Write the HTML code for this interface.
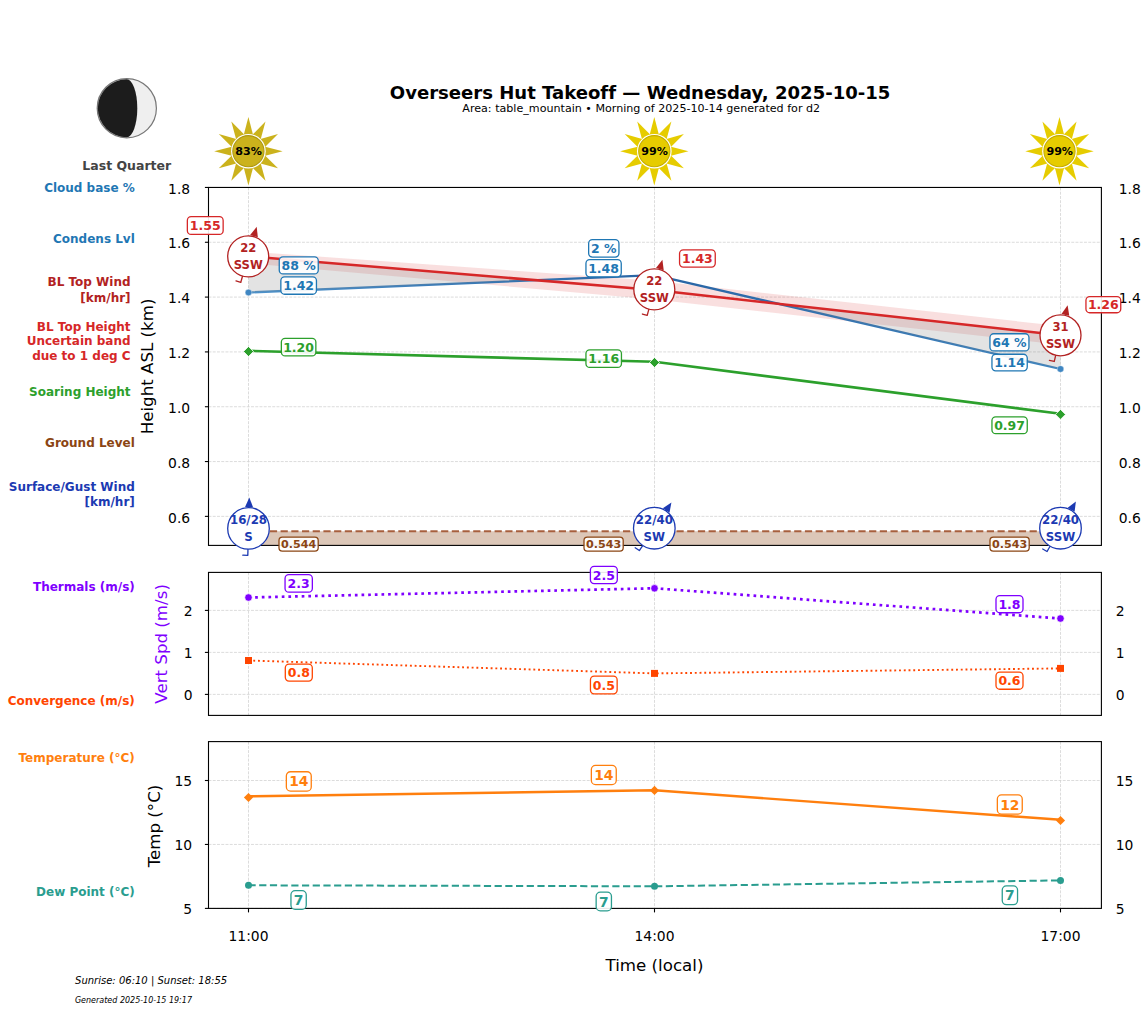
<!DOCTYPE html><html><head><meta charset="utf-8"><style>html,body{margin:0;padding:0;background:#fff;}svg{display:block;} text{font-variant-ligatures:none;}</style></head><body>
<svg width="1147" height="1011" viewBox="0 0 1147 1011" font-family="'DejaVu Sans', 'Liberation Sans', sans-serif">
<rect width="1147" height="1011" fill="#fff"/>
<defs><linearGradient id="bl" gradientUnits="userSpaceOnUse" x1="248.5" y1="0" x2="1060.5" y2="0"><stop offset="0" stop-color="#4d93cc"/><stop offset="0.5" stop-color="#2864a4"/><stop offset="1" stop-color="#3f86c2"/></linearGradient></defs>
<circle cx="126.8" cy="108.2" r="29.6" fill="#efefef" stroke="#777" stroke-width="1.2"/>
<path d="M 126.8 79.2 A 29 29 0 0 0 126.8 137.2 A 10.5 29 0 0 0 126.8 79.2 Z" fill="#1c1c1c"/>
<text x="126.8" y="170" font-size="12.5" fill="#444" font-weight="bold" text-anchor="middle">Last Quarter</text>
<text x="389.8" y="99" font-size="18.06" fill="#000" font-weight="bold">Overseers Hut Takeoff — Wednesday, 2025-10-15</text>
<text x="462.3" y="111.6" font-size="11.11" fill="#000">Area: table_mountain • Morning of 2025-10-14 generated for d2</text>
<polygon points="248.4,117 243.58,135.42 253.22,135.42" fill="#cbb21c"/>
<polygon points="265.5,121.58 252.11,135.12 260.47,139.95" fill="#cbb21c"/>
<polygon points="278.02,134.1 259.65,139.13 264.48,147.49" fill="#cbb21c"/>
<polygon points="282.6,151.2 264.18,146.38 264.18,156.02" fill="#cbb21c"/>
<polygon points="278.02,168.3 264.48,154.91 259.65,163.27" fill="#cbb21c"/>
<polygon points="265.5,180.82 260.47,162.45 252.11,167.28" fill="#cbb21c"/>
<polygon points="248.4,185.4 253.22,166.98 243.58,166.98" fill="#cbb21c"/>
<polygon points="231.3,180.82 244.69,167.28 236.33,162.45" fill="#cbb21c"/>
<polygon points="218.78,168.3 237.15,163.27 232.32,154.91" fill="#cbb21c"/>
<polygon points="214.2,151.2 232.62,156.02 232.62,146.38" fill="#cbb21c"/>
<polygon points="218.78,134.1 232.32,147.49 237.15,139.13" fill="#cbb21c"/>
<polygon points="231.3,121.58 236.33,139.95 244.69,135.12" fill="#cbb21c"/>
<circle cx="248.4" cy="151.2" r="17.3" fill="#fff"/>
<circle cx="248.4" cy="151.2" r="15.6" fill="#cbb21c" stroke="#ad9812" stroke-width="1.1"/>
<text x="248.6" y="155.2" font-size="11.1" fill="#000" font-weight="bold" text-anchor="middle">83%</text>
<polygon points="654.3,117 649.48,135.42 659.12,135.42" fill="#e6cc00"/>
<polygon points="671.4,121.58 658.01,135.12 666.37,139.95" fill="#e6cc00"/>
<polygon points="683.92,134.1 665.55,139.13 670.38,147.49" fill="#e6cc00"/>
<polygon points="688.5,151.2 670.08,146.38 670.08,156.02" fill="#e6cc00"/>
<polygon points="683.92,168.3 670.38,154.91 665.55,163.27" fill="#e6cc00"/>
<polygon points="671.4,180.82 666.37,162.45 658.01,167.28" fill="#e6cc00"/>
<polygon points="654.3,185.4 659.12,166.98 649.48,166.98" fill="#e6cc00"/>
<polygon points="637.2,180.82 650.59,167.28 642.23,162.45" fill="#e6cc00"/>
<polygon points="624.68,168.3 643.05,163.27 638.22,154.91" fill="#e6cc00"/>
<polygon points="620.1,151.2 638.52,156.02 638.52,146.38" fill="#e6cc00"/>
<polygon points="624.68,134.1 638.22,147.49 643.05,139.13" fill="#e6cc00"/>
<polygon points="637.2,121.58 642.23,139.95 650.59,135.12" fill="#e6cc00"/>
<circle cx="654.3" cy="151.2" r="17.3" fill="#fff"/>
<circle cx="654.3" cy="151.2" r="15.6" fill="#e6cc00" stroke="#c4ac00" stroke-width="1.1"/>
<text x="654.5" y="155.2" font-size="11.1" fill="#000" font-weight="bold" text-anchor="middle">99%</text>
<polygon points="1059.5,117 1054.68,135.42 1064.32,135.42" fill="#e6cc00"/>
<polygon points="1076.6,121.58 1063.21,135.12 1071.57,139.95" fill="#e6cc00"/>
<polygon points="1089.12,134.1 1070.75,139.13 1075.58,147.49" fill="#e6cc00"/>
<polygon points="1093.7,151.2 1075.28,146.38 1075.28,156.02" fill="#e6cc00"/>
<polygon points="1089.12,168.3 1075.58,154.91 1070.75,163.27" fill="#e6cc00"/>
<polygon points="1076.6,180.82 1071.57,162.45 1063.21,167.28" fill="#e6cc00"/>
<polygon points="1059.5,185.4 1064.32,166.98 1054.68,166.98" fill="#e6cc00"/>
<polygon points="1042.4,180.82 1055.79,167.28 1047.43,162.45" fill="#e6cc00"/>
<polygon points="1029.88,168.3 1048.25,163.27 1043.42,154.91" fill="#e6cc00"/>
<polygon points="1025.3,151.2 1043.72,156.02 1043.72,146.38" fill="#e6cc00"/>
<polygon points="1029.88,134.1 1043.42,147.49 1048.25,139.13" fill="#e6cc00"/>
<polygon points="1042.4,121.58 1047.43,139.95 1055.79,135.12" fill="#e6cc00"/>
<circle cx="1059.5" cy="151.2" r="17.3" fill="#fff"/>
<circle cx="1059.5" cy="151.2" r="15.6" fill="#e6cc00" stroke="#c4ac00" stroke-width="1.1"/>
<text x="1059.7" y="155.2" font-size="11.1" fill="#000" font-weight="bold" text-anchor="middle">99%</text>
<text x="134.8" y="191.7" font-size="12" fill="#1f77b4" font-weight="bold" text-anchor="end">Cloud base %</text>
<text x="134.8" y="242.5" font-size="12" fill="#1f77b4" font-weight="bold" text-anchor="end">Condens Lvl</text>
<text x="130.6" y="285.8" font-size="12" fill="#b22222" font-weight="bold" text-anchor="end">BL Top Wind</text>
<text x="130.6" y="301.6" font-size="12" fill="#b22222" font-weight="bold" text-anchor="end">[km/hr]</text>
<text x="130.6" y="330.5" font-size="12" fill="#d62728" font-weight="bold" text-anchor="end">BL Top Height</text>
<text x="130.6" y="344.7" font-size="12" fill="#d62728" font-weight="bold" text-anchor="end">Uncertain band</text>
<text x="130.6" y="360" font-size="12" fill="#d62728" font-weight="bold" text-anchor="end">due to 1 deg C</text>
<text x="130.6" y="395.7" font-size="12" fill="#2ca02c" font-weight="bold" text-anchor="end">Soaring Height</text>
<text x="134.8" y="446.6" font-size="12" fill="#8b4513" font-weight="bold" text-anchor="end">Ground Level</text>
<text x="134.8" y="490.7" font-size="12" fill="#1c3ab2" font-weight="bold" text-anchor="end">Surface/Gust Wind</text>
<text x="134.8" y="506.1" font-size="12" fill="#1c3ab2" font-weight="bold" text-anchor="end">[km/hr]</text>
<text x="134.8" y="590.5" font-size="12" fill="#7f00ff" font-weight="bold" text-anchor="end">Thermals (m/s)</text>
<text x="134.8" y="704.8" font-size="12" fill="#ff4500" font-weight="bold" text-anchor="end">Convergence (m/s)</text>
<text x="134.8" y="761.7" font-size="12" fill="#ff7f0e" font-weight="bold" text-anchor="end">Temperature (°C)</text>
<text x="134.8" y="895.8" font-size="12" fill="#2a9d8f" font-weight="bold" text-anchor="end">Dew Point (°C)</text>
<text transform="translate(152.6 366.4) rotate(-90)" text-anchor="middle" font-size="16.67" fill="#000">Height ASL (km)</text>
<text transform="translate(166.6 643.9) rotate(-90)" text-anchor="middle" font-size="16.67" fill="#7f00ff">Vert Spd (m/s)</text>
<text transform="translate(160.3 826) rotate(-90)" text-anchor="middle" font-size="16.67" fill="#000">Temp (°C)</text>
<line x1="208.5" y1="242.27" x2="1101.4" y2="242.27" stroke="#d3d3d3" stroke-width="0.8" stroke-dasharray="2.95 1.3"/>
<line x1="208.5" y1="297.09" x2="1101.4" y2="297.09" stroke="#d3d3d3" stroke-width="0.8" stroke-dasharray="2.95 1.3"/>
<line x1="208.5" y1="351.91" x2="1101.4" y2="351.91" stroke="#d3d3d3" stroke-width="0.8" stroke-dasharray="2.95 1.3"/>
<line x1="208.5" y1="406.73" x2="1101.4" y2="406.73" stroke="#d3d3d3" stroke-width="0.8" stroke-dasharray="2.95 1.3"/>
<line x1="208.5" y1="461.55" x2="1101.4" y2="461.55" stroke="#d3d3d3" stroke-width="0.8" stroke-dasharray="2.95 1.3"/>
<line x1="208.5" y1="516.37" x2="1101.4" y2="516.37" stroke="#d3d3d3" stroke-width="0.8" stroke-dasharray="2.95 1.3"/>
<line x1="248.5" y1="187.45" x2="248.5" y2="545.4" stroke="#d3d3d3" stroke-width="0.8" stroke-dasharray="2.95 1.3"/>
<line x1="654.5" y1="187.45" x2="654.5" y2="545.4" stroke="#d3d3d3" stroke-width="0.8" stroke-dasharray="2.95 1.3"/>
<line x1="1060.5" y1="187.45" x2="1060.5" y2="545.4" stroke="#d3d3d3" stroke-width="0.8" stroke-dasharray="2.95 1.3"/>
<polygon points="248.5,251.5 654.5,280.8 1060.5,326.1 1060.5,344.8 654.5,299.5 248.5,263.3" fill="#d62728" fill-opacity="0.15"/>
<polygon points="248.5,531.3 1060.5,531.3 1060.5,545.4 248.5,545.4" fill="#8b4513" fill-opacity="0.3"/>
<line x1="248.5" y1="531.3" x2="1060.5" y2="531.3" stroke="#a0522d" stroke-width="2" stroke-dasharray="7.2 3.5" stroke-opacity="0.9"/>
<polyline points="248.5,350.8 654.5,361.8 1060.5,413.8" fill="none" stroke="#2ca02c" stroke-width="2.6" stroke-linejoin="round"/>
<polyline points="248.5,292.5 654.5,275.2 1060.5,369" fill="none" stroke="url(#bl)" stroke-width="2.3" stroke-linejoin="round"/>
<polygon points="248.5,256.4 536.45,280.23 248.5,292.5" fill="#808080" fill-opacity="0.22"/>
<polygon points="778.39,303.82 1060.5,335.3 1060.5,369" fill="#808080" fill-opacity="0.22"/>
<polyline points="248.5,256.4 654.5,290 1060.5,335.3" fill="none" stroke="#d62728" stroke-width="2.5" stroke-linejoin="round"/>
<circle cx="248.5" cy="292.5" r="3.3" fill="#3f86c2" stroke="#fff" stroke-opacity="0.6" stroke-width="0.6"/>
<polygon points="248.5,346.5 253.5,351.5 248.5,356.5 243.5,351.5" fill="#2ca02c" stroke="#fff" stroke-width="0.8"/>
<circle cx="654.5" cy="275.2" r="3.3" fill="#3f86c2" stroke="#fff" stroke-opacity="0.6" stroke-width="0.6"/>
<polygon points="654.5,357.5 659.5,362.5 654.5,367.5 649.5,362.5" fill="#2ca02c" stroke="#fff" stroke-width="0.8"/>
<circle cx="1060.5" cy="369" r="3.3" fill="#3f86c2" stroke="#fff" stroke-opacity="0.6" stroke-width="0.6"/>
<polygon points="1060.5,409.4 1065.5,414.4 1060.5,419.4 1055.5,414.4" fill="#2ca02c" stroke="#fff" stroke-width="0.8"/>
<rect x="208.5" y="187.45" width="892.9" height="357.95" fill="none" stroke="#000" stroke-width="1.1"/>
<line x1="204.9" y1="187.45" x2="208.5" y2="187.45" stroke="#000" stroke-width="1.1"/>
<text x="190.2" y="193.6" font-size="13.89" fill="#000" text-anchor="end">1.8</text>
<text x="1118.7" y="193.6" font-size="13.89" fill="#000">1.8</text>
<line x1="204.9" y1="242.27" x2="208.5" y2="242.27" stroke="#000" stroke-width="1.1"/>
<text x="190.2" y="248.42" font-size="13.89" fill="#000" text-anchor="end">1.6</text>
<text x="1118.7" y="248.42" font-size="13.89" fill="#000">1.6</text>
<line x1="204.9" y1="297.09" x2="208.5" y2="297.09" stroke="#000" stroke-width="1.1"/>
<text x="190.2" y="303.24" font-size="13.89" fill="#000" text-anchor="end">1.4</text>
<text x="1118.7" y="303.24" font-size="13.89" fill="#000">1.4</text>
<line x1="204.9" y1="351.91" x2="208.5" y2="351.91" stroke="#000" stroke-width="1.1"/>
<text x="190.2" y="358.06" font-size="13.89" fill="#000" text-anchor="end">1.2</text>
<text x="1118.7" y="358.06" font-size="13.89" fill="#000">1.2</text>
<line x1="204.9" y1="406.73" x2="208.5" y2="406.73" stroke="#000" stroke-width="1.1"/>
<text x="190.2" y="412.88" font-size="13.89" fill="#000" text-anchor="end">1.0</text>
<text x="1118.7" y="412.88" font-size="13.89" fill="#000">1.0</text>
<line x1="204.9" y1="461.55" x2="208.5" y2="461.55" stroke="#000" stroke-width="1.1"/>
<text x="190.2" y="467.7" font-size="13.89" fill="#000" text-anchor="end">0.8</text>
<text x="1118.7" y="467.7" font-size="13.89" fill="#000">0.8</text>
<line x1="204.9" y1="516.37" x2="208.5" y2="516.37" stroke="#000" stroke-width="1.1"/>
<text x="190.2" y="522.52" font-size="13.89" fill="#000" text-anchor="end">0.6</text>
<text x="1118.7" y="522.52" font-size="13.89" fill="#000">0.6</text>
<line x1="208.5" y1="694.4" x2="1101.4" y2="694.4" stroke="#d3d3d3" stroke-width="0.8" stroke-dasharray="2.95 1.3"/>
<line x1="208.5" y1="652.4" x2="1101.4" y2="652.4" stroke="#d3d3d3" stroke-width="0.8" stroke-dasharray="2.95 1.3"/>
<line x1="208.5" y1="610.4" x2="1101.4" y2="610.4" stroke="#d3d3d3" stroke-width="0.8" stroke-dasharray="2.95 1.3"/>
<line x1="248.5" y1="572.4" x2="248.5" y2="715.4" stroke="#d3d3d3" stroke-width="0.8" stroke-dasharray="2.95 1.3"/>
<line x1="654.5" y1="572.4" x2="654.5" y2="715.4" stroke="#d3d3d3" stroke-width="0.8" stroke-dasharray="2.95 1.3"/>
<line x1="1060.5" y1="572.4" x2="1060.5" y2="715.4" stroke="#d3d3d3" stroke-width="0.8" stroke-dasharray="2.95 1.3"/>
<polyline points="248.5,597.5 654.5,588.3 1060.5,618.5" fill="none" stroke="#7f00ff" stroke-width="2.7" stroke-linejoin="round" stroke-dasharray="2.7 3.95"/>
<polyline points="248.5,660.5 654.5,673.4 1060.5,668.4" fill="none" stroke="#ff4500" stroke-width="1.9" stroke-linejoin="round" stroke-dasharray="1.9 2.85"/>
<circle cx="248.5" cy="597.5" r="3.7" fill="#7f00ff" stroke="#fff" stroke-width="0.6"/>
<rect x="245" y="657" width="7" height="7" fill="#ff4500"/>
<circle cx="654.5" cy="588.3" r="3.7" fill="#7f00ff" stroke="#fff" stroke-width="0.6"/>
<rect x="651" y="669.9" width="7" height="7" fill="#ff4500"/>
<circle cx="1060.5" cy="618.5" r="3.7" fill="#7f00ff" stroke="#fff" stroke-width="0.6"/>
<rect x="1057" y="664.9" width="7" height="7" fill="#ff4500"/>
<rect x="208.5" y="572.4" width="892.9" height="143" fill="none" stroke="#000" stroke-width="1.1"/>
<line x1="204.9" y1="694.4" x2="208.5" y2="694.4" stroke="#000" stroke-width="1.1"/>
<text x="192.6" y="700" font-size="13.89" fill="#000" text-anchor="end">0</text>
<text x="1115.8" y="700" font-size="13.89" fill="#000">0</text>
<line x1="204.9" y1="652.4" x2="208.5" y2="652.4" stroke="#000" stroke-width="1.1"/>
<text x="192.6" y="658" font-size="13.89" fill="#000" text-anchor="end">1</text>
<text x="1115.8" y="658" font-size="13.89" fill="#000">1</text>
<line x1="204.9" y1="610.4" x2="208.5" y2="610.4" stroke="#000" stroke-width="1.1"/>
<text x="192.6" y="616" font-size="13.89" fill="#000" text-anchor="end">2</text>
<text x="1115.8" y="616" font-size="13.89" fill="#000">2</text>
<line x1="208.5" y1="908.4" x2="1101.4" y2="908.4" stroke="#d3d3d3" stroke-width="0.8" stroke-dasharray="2.95 1.3"/>
<line x1="208.5" y1="844.45" x2="1101.4" y2="844.45" stroke="#d3d3d3" stroke-width="0.8" stroke-dasharray="2.95 1.3"/>
<line x1="208.5" y1="780.5" x2="1101.4" y2="780.5" stroke="#d3d3d3" stroke-width="0.8" stroke-dasharray="2.95 1.3"/>
<line x1="248.5" y1="741.6" x2="248.5" y2="908.4" stroke="#d3d3d3" stroke-width="0.8" stroke-dasharray="2.95 1.3"/>
<line x1="654.5" y1="741.6" x2="654.5" y2="908.4" stroke="#d3d3d3" stroke-width="0.8" stroke-dasharray="2.95 1.3"/>
<line x1="1060.5" y1="741.6" x2="1060.5" y2="908.4" stroke="#d3d3d3" stroke-width="0.8" stroke-dasharray="2.95 1.3"/>
<polyline points="248.5,796.3 654.5,790.3 1060.5,819.8" fill="none" stroke="#ff7f0e" stroke-width="2.4" stroke-linejoin="round"/>
<polyline points="248.5,885.3 654.5,886.3 1060.5,880.4" fill="none" stroke="#2a9d8f" stroke-width="2" stroke-linejoin="round" stroke-dasharray="7.2 3.5"/>
<polygon points="248.5,792.9 253.1,797.5 248.5,802.1 243.9,797.5" fill="#ff7f0e"/>
<circle cx="248.5" cy="885.3" r="3.5" fill="#2a9d8f"/>
<polygon points="654.5,785.8 659.1,790.4 654.5,795 649.9,790.4" fill="#ff7f0e"/>
<circle cx="654.5" cy="886.3" r="3.5" fill="#2a9d8f"/>
<polygon points="1060.5,815.9 1065.1,820.5 1060.5,825.1 1055.9,820.5" fill="#ff7f0e"/>
<circle cx="1060.5" cy="880.4" r="3.5" fill="#2a9d8f"/>
<rect x="208.5" y="741.6" width="892.9" height="166.8" fill="none" stroke="#000" stroke-width="1.1"/>
<line x1="204.9" y1="908.4" x2="208.5" y2="908.4" stroke="#000" stroke-width="1.1"/>
<text x="192.1" y="914" font-size="13.89" fill="#000" text-anchor="end">5</text>
<text x="1115.8" y="914" font-size="13.89" fill="#000">5</text>
<line x1="204.9" y1="844.45" x2="208.5" y2="844.45" stroke="#000" stroke-width="1.1"/>
<text x="192.1" y="850.05" font-size="13.89" fill="#000" text-anchor="end">10</text>
<text x="1115.8" y="850.05" font-size="13.89" fill="#000">10</text>
<line x1="204.9" y1="780.5" x2="208.5" y2="780.5" stroke="#000" stroke-width="1.1"/>
<text x="192.1" y="786.1" font-size="13.89" fill="#000" text-anchor="end">15</text>
<text x="1115.8" y="786.1" font-size="13.89" fill="#000">15</text>
<rect x="187.35" y="216.65" width="35.8" height="17.8" rx="3.75" ry="3.75" fill="#fff" fill-opacity="0.9" stroke="#d62728" stroke-opacity="1" stroke-width="1.3"/>
<text x="205.25" y="230.11" font-size="12.5" fill="#d62728" font-weight="bold" text-anchor="middle">1.55</text>
<rect x="279.25" y="256.85" width="39" height="17.1" rx="3.75" ry="3.75" fill="#fff" fill-opacity="0.9" stroke="#1f77b4" stroke-opacity="1" stroke-width="1.3"/>
<text x="298.75" y="269.96" font-size="12.5" fill="#1f77b4" font-weight="bold" text-anchor="middle">88 %</text>
<rect x="280.85" y="276.85" width="35.6" height="17.4" rx="3.75" ry="3.75" fill="#fff" fill-opacity="0.9" stroke="#1f77b4" stroke-opacity="1" stroke-width="1.3"/>
<text x="298.65" y="290.11" font-size="12.5" fill="#1f77b4" font-weight="bold" text-anchor="middle">1.42</text>
<rect x="281.35" y="338.3" width="34.5" height="17.6" rx="3.75" ry="3.75" fill="#fff" fill-opacity="0.9" stroke="#2ca02c" stroke-opacity="1" stroke-width="1.3"/>
<text x="298.6" y="351.66" font-size="12.5" fill="#2ca02c" font-weight="bold" text-anchor="middle">1.20</text>
<rect x="588.65" y="239.65" width="30.3" height="17.4" rx="3.75" ry="3.75" fill="#fff" fill-opacity="0.9" stroke="#1f77b4" stroke-opacity="1" stroke-width="1.3"/>
<text x="603.8" y="252.91" font-size="12.5" fill="#1f77b4" font-weight="bold" text-anchor="middle">2 %</text>
<rect x="585.95" y="259.65" width="35.3" height="17.2" rx="3.75" ry="3.75" fill="#fff" fill-opacity="0.9" stroke="#1f77b4" stroke-opacity="1" stroke-width="1.3"/>
<text x="603.6" y="272.81" font-size="12.5" fill="#1f77b4" font-weight="bold" text-anchor="middle">1.48</text>
<rect x="679.55" y="249.85" width="35.7" height="17.2" rx="3.75" ry="3.75" fill="#fff" fill-opacity="0.9" stroke="#d62728" stroke-opacity="1" stroke-width="1.3"/>
<text x="697.4" y="263.01" font-size="12.5" fill="#d62728" font-weight="bold" text-anchor="middle">1.43</text>
<rect x="585.95" y="349.85" width="35.5" height="17.6" rx="3.75" ry="3.75" fill="#fff" fill-opacity="0.9" stroke="#2ca02c" stroke-opacity="1" stroke-width="1.3"/>
<text x="603.7" y="363.21" font-size="12.5" fill="#2ca02c" font-weight="bold" text-anchor="middle">1.16</text>
<rect x="1085.95" y="296.55" width="34.8" height="16.2" rx="3.75" ry="3.75" fill="#fff" fill-opacity="0.9" stroke="#d62728" stroke-opacity="1" stroke-width="1.3"/>
<text x="1103.35" y="309.21" font-size="12.5" fill="#d62728" font-weight="bold" text-anchor="middle">1.26</text>
<rect x="989.95" y="333.75" width="39" height="17.2" rx="3.75" ry="3.75" fill="#fff" fill-opacity="0.9" stroke="#1f77b4" stroke-opacity="1" stroke-width="1.3"/>
<text x="1009.45" y="346.91" font-size="12.5" fill="#1f77b4" font-weight="bold" text-anchor="middle">64 %</text>
<rect x="991.95" y="354.25" width="35.3" height="16.6" rx="3.75" ry="3.75" fill="#fff" fill-opacity="0.9" stroke="#1f77b4" stroke-opacity="1" stroke-width="1.3"/>
<text x="1009.6" y="367.11" font-size="12.5" fill="#1f77b4" font-weight="bold" text-anchor="middle">1.14</text>
<rect x="991.95" y="416.85" width="35.3" height="16.8" rx="3.75" ry="3.75" fill="#fff" fill-opacity="0.9" stroke="#2ca02c" stroke-opacity="1" stroke-width="1.3"/>
<text x="1009.6" y="429.81" font-size="12.5" fill="#2ca02c" font-weight="bold" text-anchor="middle">0.97</text>
<rect x="279" y="537.15" width="39.2" height="13.9" rx="3.33" ry="3.33" fill="#fff" fill-opacity="0.9" stroke="#8b4513" stroke-opacity="1" stroke-width="1.3"/>
<text x="298.6" y="548.15" font-size="11.11" fill="#8b4513" font-weight="bold" text-anchor="middle">0.544</text>
<rect x="584" y="537.15" width="39.2" height="13.9" rx="3.33" ry="3.33" fill="#fff" fill-opacity="0.9" stroke="#8b4513" stroke-opacity="1" stroke-width="1.3"/>
<text x="603.6" y="548.15" font-size="11.11" fill="#8b4513" font-weight="bold" text-anchor="middle">0.543</text>
<rect x="990" y="537.15" width="39.2" height="13.9" rx="3.33" ry="3.33" fill="#fff" fill-opacity="0.9" stroke="#8b4513" stroke-opacity="1" stroke-width="1.3"/>
<text x="1009.6" y="548.15" font-size="11.11" fill="#8b4513" font-weight="bold" text-anchor="middle">0.543</text>
<line x1="240.79" y1="282.26" x2="254.13" y2="235.73" stroke="#b22222" stroke-width="1.3"/>
<line x1="240.79" y1="282.26" x2="235.98" y2="280.88" stroke="#b22222" stroke-width="1.3" stroke-linecap="round"/>
<circle cx="248.2" cy="256.4" r="20.5" fill="#fff" stroke="#b22222" stroke-width="1.3"/>
<polygon points="256.69,226.79 250.14,235.11 257.83,237.32" fill="#b22222"/>
<text x="248.2" y="252.2" font-size="11.6" fill="#b22222" font-weight="bold" text-anchor="middle">22</text>
<text x="248.2" y="268.9" font-size="11.6" fill="#b22222" font-weight="bold" text-anchor="middle">SSW</text>
<line x1="647.2" y1="315.35" x2="659.97" y2="268.66" stroke="#b22222" stroke-width="1.3"/>
<line x1="647.2" y1="315.35" x2="642.38" y2="314.03" stroke="#b22222" stroke-width="1.3" stroke-linecap="round"/>
<circle cx="654.3" cy="289.4" r="20.5" fill="#fff" stroke="#b22222" stroke-width="1.3"/>
<polygon points="662.43,259.69 655.98,268.09 663.7,270.2" fill="#b22222"/>
<text x="654.3" y="285.2" font-size="11.6" fill="#b22222" font-weight="bold" text-anchor="middle">22</text>
<text x="654.3" y="301.9" font-size="11.6" fill="#b22222" font-weight="bold" text-anchor="middle">SSW</text>
<line x1="1054.27" y1="361.47" x2="1065.48" y2="314.39" stroke="#b22222" stroke-width="1.3"/>
<line x1="1054.27" y1="361.47" x2="1049.4" y2="360.31" stroke="#b22222" stroke-width="1.3" stroke-linecap="round"/>
<circle cx="1060.5" cy="335.3" r="20.5" fill="#fff" stroke="#b22222" stroke-width="1.3"/>
<polygon points="1067.64,305.34 1061.48,313.94 1069.26,315.8" fill="#b22222"/>
<text x="1060.5" y="331.1" font-size="11.6" fill="#b22222" font-weight="bold" text-anchor="middle">31</text>
<text x="1060.5" y="347.8" font-size="11.6" fill="#b22222" font-weight="bold" text-anchor="middle">SSW</text>
<line x1="247.8" y1="555.29" x2="249.07" y2="506.61" stroke="#1c3ab2" stroke-width="1.3"/>
<line x1="247.8" y1="555.29" x2="242.8" y2="555.16" stroke="#1c3ab2" stroke-width="1.3" stroke-linecap="round"/>
<circle cx="248.5" cy="528.4" r="20.8" fill="#fff" stroke="#1c3ab2" stroke-width="1.3"/>
<polygon points="249.31,497.61 245.06,507 253.06,507.21" fill="#1c3ab2"/>
<text x="248.5" y="524.2" font-size="11.8" fill="#1c3ab2" font-weight="bold" text-anchor="middle">16/28</text>
<text x="248.5" y="540.9" font-size="11.8" fill="#1c3ab2" font-weight="bold" text-anchor="middle">S</text>
<line x1="639.34" y1="550.55" x2="666.43" y2="510.08" stroke="#1c3ab2" stroke-width="1.3"/>
<line x1="639.34" y1="550.55" x2="635.18" y2="547.77" stroke="#1c3ab2" stroke-width="1.3" stroke-linecap="round"/>
<circle cx="654.3" cy="528.2" r="20.8" fill="#fff" stroke="#1c3ab2" stroke-width="1.3"/>
<polygon points="671.43,502.61 662.83,508.27 669.47,512.73" fill="#1c3ab2"/>
<text x="654.3" y="524" font-size="11.8" fill="#1c3ab2" font-weight="bold" text-anchor="middle">22/40</text>
<text x="654.3" y="540.7" font-size="11.8" fill="#1c3ab2" font-weight="bold" text-anchor="middle">SW</text>
<line x1="1047.05" y1="551.5" x2="1071.4" y2="509.32" stroke="#1c3ab2" stroke-width="1.3"/>
<line x1="1047.05" y1="551.5" x2="1042.72" y2="549" stroke="#1c3ab2" stroke-width="1.3" stroke-linecap="round"/>
<circle cx="1060.5" cy="528.2" r="20.8" fill="#fff" stroke="#1c3ab2" stroke-width="1.3"/>
<polygon points="1075.9,501.53 1067.69,507.75 1074.61,511.75" fill="#1c3ab2"/>
<text x="1060.5" y="524" font-size="11.8" fill="#1c3ab2" font-weight="bold" text-anchor="middle">22/40</text>
<text x="1060.5" y="540.7" font-size="11.8" fill="#1c3ab2" font-weight="bold" text-anchor="middle">SSW</text>
<rect x="285.05" y="574.65" width="27.3" height="17.5" rx="3.75" ry="3.75" fill="#fff" fill-opacity="0.9" stroke="#7f00ff" stroke-opacity="1" stroke-width="1.3"/>
<text x="298.7" y="587.96" font-size="12.5" fill="#7f00ff" font-weight="bold" text-anchor="middle">2.3</text>
<rect x="590.4" y="566.3" width="26.9" height="17.3" rx="3.75" ry="3.75" fill="#fff" fill-opacity="0.9" stroke="#7f00ff" stroke-opacity="1" stroke-width="1.3"/>
<text x="603.85" y="579.51" font-size="12.5" fill="#7f00ff" font-weight="bold" text-anchor="middle">2.5</text>
<rect x="996" y="595.55" width="27" height="17.2" rx="3.75" ry="3.75" fill="#fff" fill-opacity="0.9" stroke="#7f00ff" stroke-opacity="1" stroke-width="1.3"/>
<text x="1009.5" y="608.71" font-size="12.5" fill="#7f00ff" font-weight="bold" text-anchor="middle">1.8</text>
<rect x="285.3" y="664.1" width="27" height="17" rx="3.75" ry="3.75" fill="#fff" fill-opacity="0.9" stroke="#ff4500" stroke-opacity="1" stroke-width="1.3"/>
<text x="298.8" y="677.16" font-size="12.5" fill="#ff4500" font-weight="bold" text-anchor="middle">0.8</text>
<rect x="590.45" y="676.15" width="26.7" height="17.7" rx="3.75" ry="3.75" fill="#fff" fill-opacity="0.9" stroke="#ff4500" stroke-opacity="1" stroke-width="1.3"/>
<text x="603.8" y="689.56" font-size="12.5" fill="#ff4500" font-weight="bold" text-anchor="middle">0.5</text>
<rect x="996" y="672.05" width="27" height="17.2" rx="3.75" ry="3.75" fill="#fff" fill-opacity="0.9" stroke="#ff4500" stroke-opacity="1" stroke-width="1.3"/>
<text x="1009.5" y="685.21" font-size="12.5" fill="#ff4500" font-weight="bold" text-anchor="middle">0.6</text>
<rect x="286.35" y="771.75" width="24.9" height="19.3" rx="4.17" ry="4.17" fill="#fff" fill-opacity="0.9" stroke="#ff7f0e" stroke-opacity="1" stroke-width="1.3"/>
<text x="298.8" y="786.46" font-size="13.89" fill="#ff7f0e" font-weight="bold" text-anchor="middle">14</text>
<rect x="591.35" y="765.45" width="24.9" height="19.1" rx="4.17" ry="4.17" fill="#fff" fill-opacity="0.9" stroke="#ff7f0e" stroke-opacity="1" stroke-width="1.3"/>
<text x="603.8" y="780.06" font-size="13.89" fill="#ff7f0e" font-weight="bold" text-anchor="middle">14</text>
<rect x="997.35" y="794.95" width="24.9" height="19.1" rx="4.17" ry="4.17" fill="#fff" fill-opacity="0.9" stroke="#ff7f0e" stroke-opacity="1" stroke-width="1.3"/>
<text x="1009.8" y="809.56" font-size="13.89" fill="#ff7f0e" font-weight="bold" text-anchor="middle">12</text>
<rect x="290.95" y="890.65" width="15.3" height="18.7" rx="4.17" ry="4.17" fill="#fff" fill-opacity="0.9" stroke="#2a9d8f" stroke-opacity="1" stroke-width="1.3"/>
<text x="298.6" y="905.06" font-size="13.89" fill="#2a9d8f" font-weight="bold" text-anchor="middle">7</text>
<rect x="596.15" y="892.15" width="15.3" height="18.7" rx="4.17" ry="4.17" fill="#fff" fill-opacity="0.9" stroke="#2a9d8f" stroke-opacity="1" stroke-width="1.3"/>
<text x="603.8" y="906.56" font-size="13.89" fill="#2a9d8f" font-weight="bold" text-anchor="middle">7</text>
<rect x="1002.25" y="885.95" width="15.3" height="18.7" rx="4.17" ry="4.17" fill="#fff" fill-opacity="0.9" stroke="#2a9d8f" stroke-opacity="1" stroke-width="1.3"/>
<text x="1009.9" y="900.36" font-size="13.89" fill="#2a9d8f" font-weight="bold" text-anchor="middle">7</text>
<line x1="248.5" y1="908.4" x2="248.5" y2="912.4" stroke="#000" stroke-width="1.1"/>
<text x="248.5" y="941.1" font-size="13.89" fill="#000" text-anchor="middle">11:00</text>
<line x1="654.5" y1="908.4" x2="654.5" y2="912.4" stroke="#000" stroke-width="1.1"/>
<text x="654.5" y="941.1" font-size="13.89" fill="#000" text-anchor="middle">14:00</text>
<line x1="1060.5" y1="908.4" x2="1060.5" y2="912.4" stroke="#000" stroke-width="1.1"/>
<text x="1060.5" y="941.1" font-size="13.89" fill="#000" text-anchor="middle">17:00</text>
<text x="654.5" y="970.6" font-size="16.67" fill="#000" text-anchor="middle">Time (local)</text>
<text x="75.1" y="983.8" font-size="10" fill="#000" font-style="italic">Sunrise: 06:10 | Sunset: 18:55</text>
<text x="74.9" y="1002.6" font-size="8" fill="#000" font-style="italic">Generated 2025-10-15 19:17</text>
</svg></body></html>
